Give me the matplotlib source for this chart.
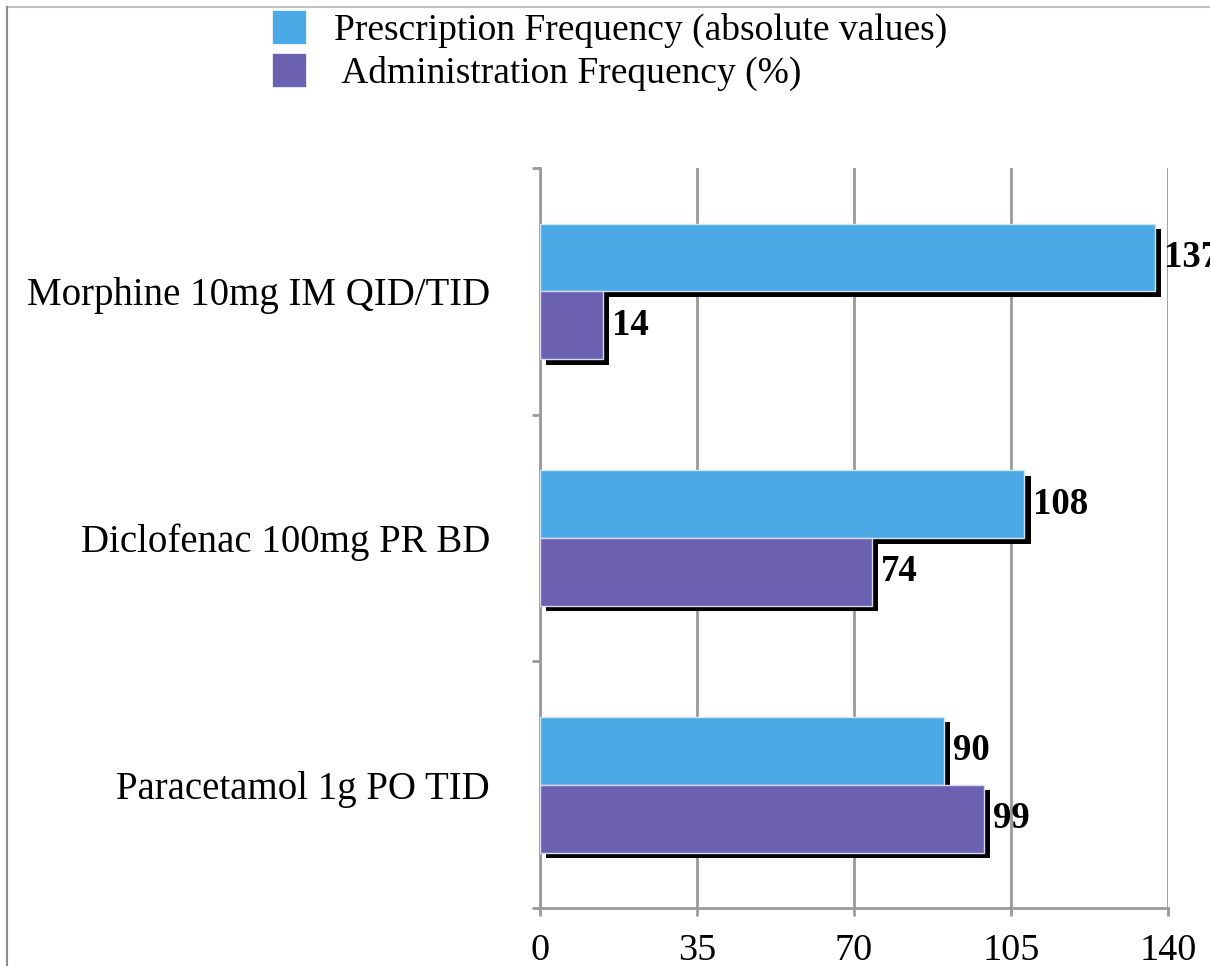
import matplotlib
matplotlib.use("Agg")
import matplotlib.pyplot as plt
import matplotlib.patheffects as pe
from matplotlib.lines import Line2D
from matplotlib.patches import Patch
import numpy as np

plt.rcParams['font.family'] = ['Liberation Serif', 'DejaVu Serif']

drugs = ["Paracetamol 1g PO TID", "Diclofenac 100mg PR BD", "Morphine 10mg IM QID/TID"]
prescription = [90, 108, 137]
administration = [99, 74, 14]
series_names = ["Prescription Frequency (absolute values)", " Administration Frequency (%)"]
xticks = [0, 35, 70, 105, 140]

blue = "#4BA9E6"
purple = "#6B61B0"
grid_grey = "#9a9a9a"

fig = plt.figure(figsize=(12.1, 9.66), dpi=100)
ax = fig.add_axes([540 / 1210, 1 - 908 / 966, 628 / 1210, 740 / 966])

y = np.arange(len(drugs))
h = 0.275
shadow = [pe.SimplePatchShadow(offset=(4.6, -4.0), shadow_rgbFace="black", alpha=1.0), pe.Normal()]

b1 = ax.barh(y + h / 2, prescription, height=h, color=blue, edgecolor="#cfe6f7", linewidth=1, zorder=3)
b2 = ax.barh(y - h / 2, administration, height=h, color=purple, edgecolor="#d9d6ee", linewidth=1, zorder=3)
for bar in list(b1) + list(b2):
    bar.set_path_effects(shadow)

for bars, vals in ((b1, prescription), (b2, administration)):
    for bar, v in zip(bars, vals):
        ax.annotate(str(v), (v, bar.get_y() + bar.get_height() / 2),
                    xytext=(6.5, 0), textcoords="offset points",
                    ha="left", va="center", fontsize=26.5, fontweight="bold",
                    annotation_clip=False, zorder=5)

ax.set_xlim(0, 140)
ax.set_ylim(-0.5, 2.5)
ax.set_xticks(xticks)
ax.set_yticks(y)
ax.set_yticklabels(drugs)
ax.set_yticks([-0.5, 0.5, 1.5, 2.5], minor=True)
ax.tick_params(axis="y", which="major", length=0, pad=36, labelsize=28)
ax.tick_params(axis="y", which="minor", length=6, width=2, color=grid_grey)
ax.tick_params(axis="x", length=6, width=2, color=grid_grey, labelsize=27.5, pad=12)

ax.grid(axis="x", color=grid_grey, linewidth=2, zorder=0)
ax.set_axisbelow(True)
for side in ("top", "right"):
    ax.spines[side].set_visible(False)
for side in ("left", "bottom"):
    ax.spines[side].set_color(grid_grey)
    ax.spines[side].set_linewidth(2)

handles = [Patch(facecolor=blue, edgecolor="white", linewidth=1.2),
           Patch(facecolor=purple, edgecolor="white", linewidth=1.2)]
fig.legend(handles, series_names, loc="upper left", bbox_to_anchor=(272 / 1210, 1 - 10 / 966),
           frameon=False, fontsize=27, handlelength=0.93, handleheight=1.05,
           handletextpad=0.72, labelspacing=0.12, borderpad=0, borderaxespad=0)

# outer frame (top and left edges)
fig.add_artist(Line2D([7 / 1210, 1], [1 - 7 / 966, 1 - 7 / 966], color="#c0c0c0", linewidth=1.5))
fig.add_artist(Line2D([7 / 1210, 7 / 1210], [0, 1 - 7 / 966], color="#8c8c8c", linewidth=1.5))

fig.savefig("out.png", dpi=100, facecolor="white")
